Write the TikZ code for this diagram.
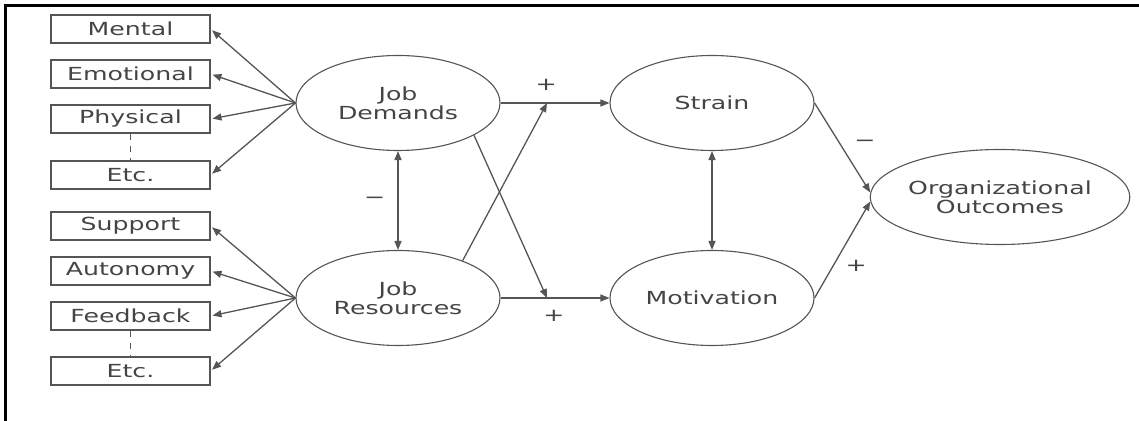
\documentclass[tikz,border=0pt]{standalone}
\usepackage{fontspec}
\setmainfont[FakeStretch=1.4]{DejaVu Sans}
\usetikzlibrary{arrows.meta}
\usetikzlibrary{shapes.geometric}
\definecolor{linegray}{HTML}{555555}
\definecolor{textgray}{HTML}{444444}
\tikzset{
	factor/.style={draw=linegray, line width=0.55pt, minimum width=79.5pt, minimum height=14pt, inner sep=0pt, text=textgray},
	latent/.style={ellipse, draw=linegray, line width=0.55pt, minimum width=102pt, minimum height=47.5pt, inner sep=0pt, align=center, text=textgray},
	effect/.style={-{Triangle[length=4.5pt,width=3.5pt]}, draw=linegray, line width=0.65pt},
	covar/.style={{Triangle[length=4.5pt,width=3.5pt]}-{Triangle[length=4.5pt,width=3.5pt]}, draw=linegray, line width=0.75pt},
	sign/.style={text=textgray, inner sep=0pt}
}
\begin{document}
\begin{tikzpicture}[x=0.5pt, y=-0.5pt, font=\fontsize{9}{9.5}\selectfont]
	\useasboundingbox (0,0) rectangle (1139,421);
	\draw[line width=1.3pt] (5.5,421) -- (5.5,5.5) -- (1139,5.5);
	\node[factor] (mental) at (130.5,29){Mental};%demands
	\node[factor] (emotional) at (130.5,74){Emotional};
	\node[factor] (physical) at (130.5,119){Physical};
	\node[factor] (etcd) at (130.5,175){Etc.};
	\node[factor] (support) at (130.5,226){Support};%resources
	\node[factor] (autonomy) at (130.5,271){Autonomy};
	\node[factor] (feedback) at (130.5,316){Feedback};
	\node[factor] (etcr) at (130.5,371){Etc.};
	\node[latent] (jd) at (398,103){Job\\Demands};
	\node[latent] (jr) at (398,298){Job\\Resources};
	\node[latent] (strain) at (712,103){Strain};
	\node[latent] (motiv) at (712,298){Motivation};
	\node[latent] (outcomes) at (1000,197){Organizational\\Outcomes};
	\coordinate (upjoin) at (547,103);
	\coordinate (lowjoin) at (547,298);
	\draw[dashed, draw=linegray, line width=0.55pt] (physical) -- (etcd);
	\draw[dashed, draw=linegray, line width=0.55pt] (feedback) -- (etcr);
	\draw[effect, shorten >=1pt] (jd.west) -- (mental.east);
	\draw[effect, shorten >=1pt] (jd.west) -- (emotional.east);
	\draw[effect, shorten >=1pt] (jd.west) -- (physical.east);
	\draw[effect, shorten >=1pt] (jd.west) -- (etcd.east);
	\draw[effect, shorten >=1pt] (jr.west) -- (support.east);
	\draw[effect, shorten >=1pt] (jr.west) -- (autonomy.east);
	\draw[effect, shorten >=1pt] (jr.west) -- (feedback.east);
	\draw[effect, shorten >=1pt] (jr.west) -- (etcr.east);
	\draw[effect] (jd.east) --node[sign, pos=0.42, above=6pt]{+} (strain.west);
	\draw[effect] (jr.east) --node[sign, pos=0.49, below=6pt]{+} (motiv.west);
	\draw[effect] (jd.-23) -- (lowjoin);
	\draw[effect] (jr.30) -- (upjoin);
	\draw[covar] (jd.south) --node[sign, midway, left=6pt]{−} (jr.north);
	\draw[covar] (strain.south) -- (motiv.north);
	\draw[effect] (strain.east) --node[sign, pos=0.45, right=7pt]{−} (outcomes.178);
	\draw[effect] (motiv.east) --node[sign, pos=0.33, right=6pt]{+} (outcomes.182);
\end{tikzpicture}
\end{document}
